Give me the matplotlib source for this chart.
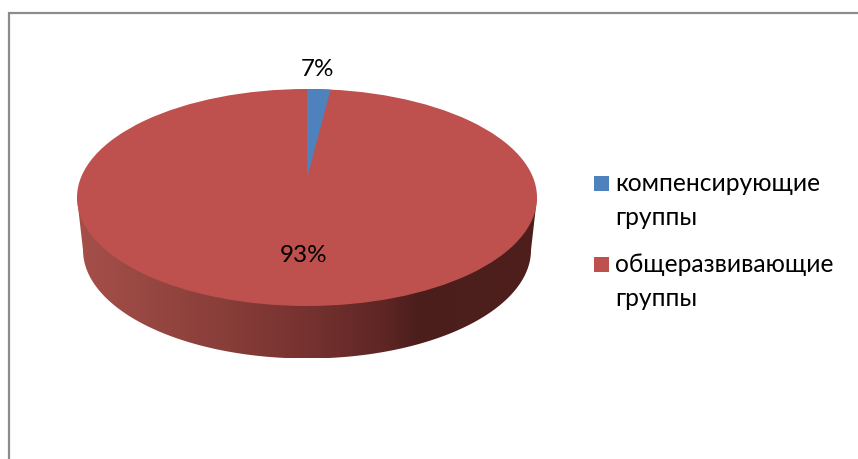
import numpy as np
import matplotlib.pyplot as plt
from matplotlib.colors import LinearSegmentedColormap
from matplotlib.patches import Ellipse, Polygon, Rectangle

plt.rcParams['font.family'] = ['Lato', 'Open Sans', 'DejaVu Sans']

# подписи на диаграмме и доли, как они нарисованы (синий сектор уже, чем подпись 7%)
categories = ['компенсирующие\nгруппы', 'общеразвивающие\nгруппы']
label_values = [7, 93]
drawn_shares = [2, 98]

colors = ['#4F81BD', '#BE504D']

fig = plt.figure(figsize=(8.58, 4.59), dpi=100)
ax = fig.add_axes([0, 0, 1, 1])
ax.set_xlim(0, 858)
ax.set_ylim(459, 0)
ax.axis('off')

# рамка
ax.plot([9, 9, 858], [459, 13, 13], color='#8C8C8C', lw=1.6, solid_joinstyle='miter')

cx, cy = 307, 197.5
rx, ry = 230, 108.5
apex_y = 178
low_cy, low_rx = 250, 224

# боковая сторона с градиентом
t = np.linspace(0, np.pi, 200)
side = Polygon(np.column_stack([
    np.r_[cx - rx, cx + low_rx * np.cos(t[::-1]), cx + rx],
    np.r_[cy, low_cy + ry * np.sin(t[::-1]), cy]]),
    closed=True, facecolor='none', edgecolor='none')
ax.add_patch(side)
side_cmap = LinearSegmentedColormap.from_list('side', [
    (0.0, '#A64F4A'), (0.3, '#8A3F3A'), (0.5, '#763230'),
    (0.68, '#5C2523'), (0.74, '#4B1E1C'), (1.0, '#4E1F1D')])
img = ax.imshow(np.linspace(0, 1, 460).reshape(1, -1), extent=[77, 537, 358, 198],
                cmap=side_cmap, aspect='auto', zorder=1)
img.set_clip_path(side)
ax.set_xlim(0, 858)
ax.set_ylim(459, 0)

# верх диска
ax.add_patch(Ellipse((cx, cy), 2 * rx, 2 * ry, facecolor=colors[1], edgecolor='none', zorder=2))

# синий сектор: лучи из вершины сектора до края эллипса
theta = np.linspace(0, 2 * np.pi * drawn_shares[0] / sum(drawn_shares), 40)
d = (cy - apex_y) / ry
r = -d * np.cos(theta) + np.sqrt(d ** 2 * np.cos(theta) ** 2 - d ** 2 + 1)
wedge_x = np.r_[cx, cx + r * rx * np.sin(theta)]
wedge_y = np.r_[apex_y, apex_y - r * ry * np.cos(theta)]
ax.add_patch(Polygon(np.column_stack([wedge_x, wedge_y]), closed=True,
                     facecolor=colors[0], edgecolor='none', zorder=3))

# подписи данных
ax.text(318, 69.5, f'{label_values[0]}%', ha='center', va='center', fontsize=17.5, color='black', zorder=4)
ax.text(303.5, 255.5, f'{label_values[1]}%', ha='center', va='center', fontsize=17.5, color='black', zorder=4)

# легенда
for y, name, color in zip([183, 264], categories, colors):
    ax.add_patch(Rectangle((594, y - 7.5), 15, 15, facecolor=color, edgecolor='none'))
    ax.text(615, y - 11, name, ha='left', va='top', fontsize=17.7, color='black', linespacing=1.58)

plt.savefig('out.png', dpi=100)
